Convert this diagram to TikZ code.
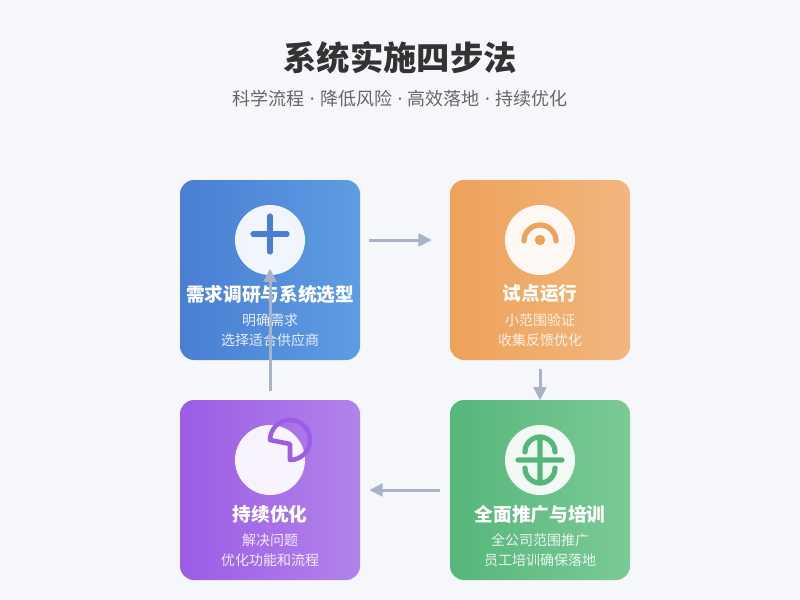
\documentclass[tikz,border=0pt]{standalone}
\usepackage{fontspec}
\setmainfont{Noto Sans CJK SC}
\newfontfamily\latinfont{Noto Sans}
\usetikzlibrary{arrows.meta}
\definecolor{pagebg}{HTML}{F5F7FB}
\definecolor{titlegray}{HTML}{333333}
\definecolor{subgray}{HTML}{666666}
\definecolor{arrowgray}{HTML}{A8B3C7}
\definecolor{blueL}{HTML}{4A7ED3}
\definecolor{blueR}{HTML}{5D9DE3}
\definecolor{orangeL}{HTML}{EEA25A}
\definecolor{orangeR}{HTML}{F2B67E}
\definecolor{purpleL}{HTML}{9C5CE6}
\definecolor{purpleR}{HTML}{B283EA}
\definecolor{greenL}{HTML}{55B67A}
\definecolor{greenR}{HTML}{7CCA95}
\newcommand{\sepdot}{\hspace{0.3em}{\latinfont·}\hspace{0.3em}}
\tikzset{
  card/.style={rounded corners=10.5pt, minimum width=135pt, minimum height=135pt, inner sep=0pt},
  icon/.style={circle, fill=white, fill opacity=0.92, minimum size=52.5pt, inner sep=0pt},
  cardtitle/.style={text=white, font=\bfseries\fontsize{14pt}{16pt}\selectfont},
  carddesc/.style={text=white, text opacity=0.85, align=center, font=\fontsize{10.5pt}{15pt}\selectfont},
  flow/.style={->, draw=arrowgray, line width=2.25pt},
  glyph/.style={line width=3.9pt, line cap=round, line join=round},
}
\begin{document}
\begin{tikzpicture}[x=0.75pt, y=-0.75pt, >={Triangle[length=10pt,width=9.5pt]}]
  \fill[pagebg] (0,0) rectangle (800,600);
  \node[font=\bfseries\fontsize{25pt}{28pt}\selectfont, text=titlegray] (title) at (400,58) {系统实施四步法};
  \node[font=\fontsize{13.5pt}{16pt}\selectfont, text=subgray] (subtitle) at (400,99) {科学流程\sepdot 降低风险\sepdot 高效落地\sepdot 持续优化};
  % the four steps
  \node[card, left color=blueL, right color=blueR] (research) at (270,270) {};
  \node[card, left color=orangeL, right color=orangeR] (pilot) at (540,270) {};
  \node[card, left color=greenL, right color=greenR] (rollout) at (540,490) {};
  \node[card, left color=purpleL, right color=purpleR] (optimize) at (270,490) {};
  \node[icon] (researchicon) at (270,240) {};
  \node[icon] (piloticon) at (540,240) {};
  \node[icon] (rollouticon) at (540,460) {};
  \node[icon] (optimizeicon) at (270,460) {};
  % icon glyphs
  \draw[glyph, draw=blueL] (253,234) -- (287,234) (270,216) -- (270,252);
  \draw[glyph, draw=orangeL] (524,241) arc[start angle=180, end angle=360, radius=16];
  \fill[orangeL] (540,240) circle (3.9pt);
  \draw[glyph, draw=greenL] (525,452) arc[start angle=180, end angle=360, radius=15]
    (525,468) arc[start angle=180, end angle=0, radius=15]
    (518,460) -- (562,460) (540,437) -- (540,483);
  \draw[glyph, line width=3.4pt, draw=purpleL] (270,440) arc[start angle=180, end angle=450, radius=20] -- (290,444) -- cycle;
  % texts
  \node[cardtitle] (researchtitle) at (270,294) {需求调研与系统选型};
  \node[carddesc] (researchdesc) at (270,330) {明确需求\\选择适合供应商};
  \node[cardtitle] (pilottitle) at (540,294) {试点运行};
  \node[carddesc] (pilotdesc) at (540,330) {小范围验证\\收集反馈优化};
  \node[cardtitle] (rollouttitle) at (540,514) {全面推广与培训};
  \node[carddesc] (rolloutdesc) at (540,550) {全公司范围推广\\员工培训确保落地};
  \node[cardtitle] (optimizetitle) at (270,514) {持续优化};
  \node[carddesc] (optimizedesc) at (270,550) {解决问题\\优化功能和流程};
  % flow between steps
  \draw[flow, shorten <=6.75pt, shorten >=13.5pt] (research.east |- researchicon) -- (pilot.west |- piloticon);
  \draw[flow, shorten <=6.75pt, shorten >=-0.5pt] (pilot.south) -- (rollout.north);
  \draw[flow, shorten <=7.5pt, shorten >=6.75pt] (rollout.west) -- (optimize.east);
  \draw[flow, shorten <=6.75pt, shorten >=-5pt] (optimize.north) -- (researchicon.south);
\end{tikzpicture}
\end{document}
